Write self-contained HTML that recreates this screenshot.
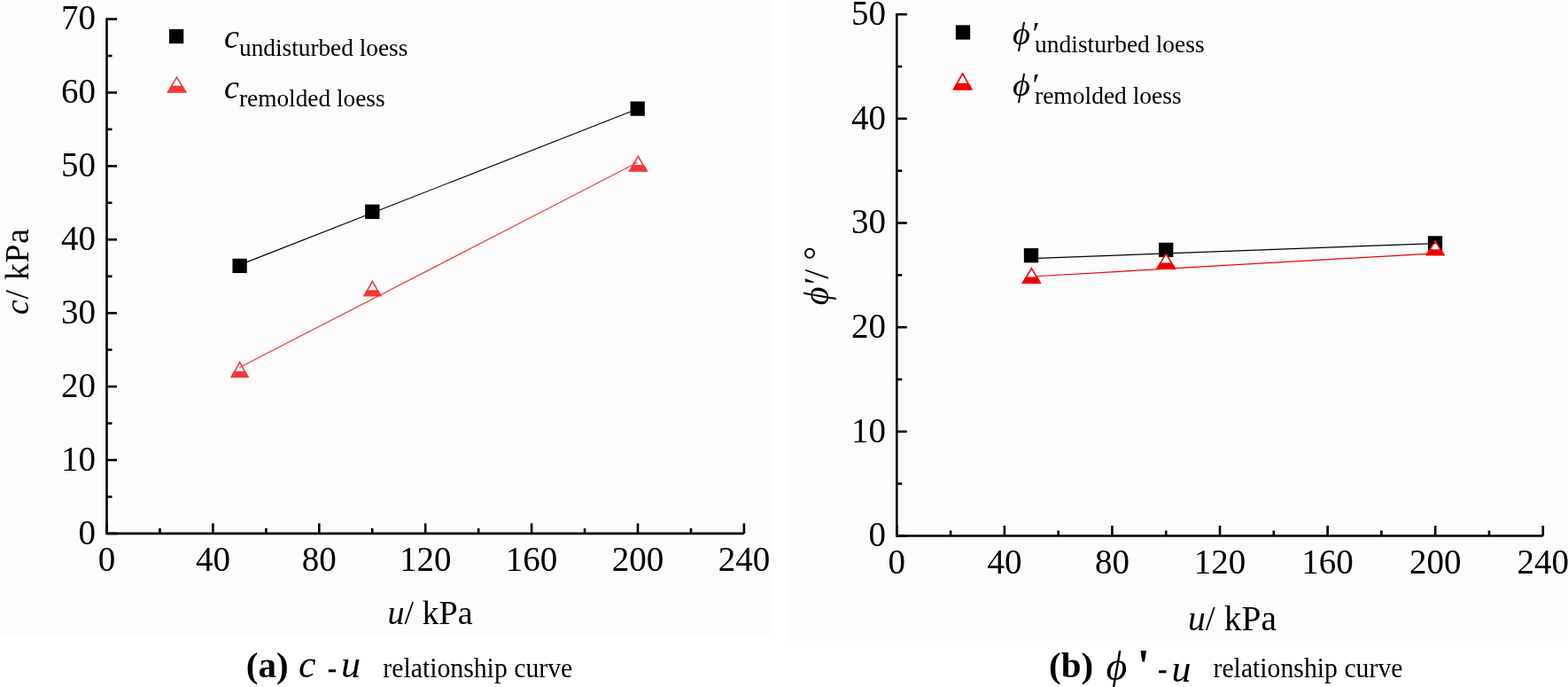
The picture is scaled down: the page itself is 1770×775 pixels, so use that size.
<!DOCTYPE html><html><head><meta charset="utf-8"><title>c-u and phi-u relationship curves</title>
<style>html,body{margin:0;padding:0;background:#fff;}svg{display:block;}text{font-family:'Liberation Serif', 'Times New Roman', serif;fill:#000;}</style></head><body>
<svg width="1770" height="775" viewBox="0 0 1770 775">
<rect x="0" y="0" width="1770" height="775" fill="#fff"/>
<rect x="0" y="0" width="869" height="718" fill="#fcfcfc"/>
<rect x="888" y="0" width="882" height="724" fill="#fcfcfc"/>
<g stroke="#000" stroke-width="2.6" fill="none" stroke-linecap="butt">
<path d="M120.50 20.23 V601.90 H839.90"/>
<path d="M120.50 601.90 h11.5"/>
<path d="M120.50 560.44 h6"/>
<path d="M120.50 518.99 h11.5"/>
<path d="M120.50 477.53 h6"/>
<path d="M120.50 436.08 h11.5"/>
<path d="M120.50 394.62 h6"/>
<path d="M120.50 353.17 h11.5"/>
<path d="M120.50 311.71 h6"/>
<path d="M120.50 270.26 h11.5"/>
<path d="M120.50 228.80 h6"/>
<path d="M120.50 187.35 h11.5"/>
<path d="M120.50 145.89 h6"/>
<path d="M120.50 104.44 h11.5"/>
<path d="M120.50 62.98 h6"/>
<path d="M120.50 21.53 h11.5"/>
<path d="M120.50 601.90 v-11.5"/>
<path d="M180.45 601.90 v-6"/>
<path d="M240.40 601.90 v-11.5"/>
<path d="M300.35 601.90 v-6"/>
<path d="M360.30 601.90 v-11.5"/>
<path d="M420.25 601.90 v-6"/>
<path d="M480.20 601.90 v-11.5"/>
<path d="M540.15 601.90 v-6"/>
<path d="M600.10 601.90 v-11.5"/>
<path d="M660.05 601.90 v-6"/>
<path d="M720.00 601.90 v-11.5"/>
<path d="M779.95 601.90 v-6"/>
<path d="M839.90 601.90 v-11.5"/>
</g>
<text x="108.1" y="613.7" font-size="39" text-anchor="end">0</text>
<text x="108.1" y="530.8" font-size="39" text-anchor="end">10</text>
<text x="108.1" y="447.9" font-size="39" text-anchor="end">20</text>
<text x="108.1" y="365.0" font-size="39" text-anchor="end">30</text>
<text x="108.1" y="282.1" font-size="39" text-anchor="end">40</text>
<text x="108.1" y="199.1" font-size="39" text-anchor="end">50</text>
<text x="108.1" y="116.2" font-size="39" text-anchor="end">60</text>
<text x="108.1" y="33.3" font-size="39" text-anchor="end">70</text>
<text x="120.5" y="643.5" font-size="39" text-anchor="middle">0</text>
<text x="240.4" y="643.5" font-size="39" text-anchor="middle">40</text>
<text x="360.3" y="643.5" font-size="39" text-anchor="middle">80</text>
<text x="480.2" y="643.5" font-size="39" text-anchor="middle">120</text>
<text x="600.1" y="643.5" font-size="39" text-anchor="middle">160</text>
<text x="720.0" y="643.5" font-size="39" text-anchor="middle">200</text>
<text x="839.9" y="643.5" font-size="39" text-anchor="middle">240</text>
<path d="M270.4 298.9 L720 122.7" stroke="#000" stroke-width="1.15" fill="none"/>
<rect x="262.45" y="291.75" width="16.3" height="16.3" fill="#000"/>
<rect x="412.15" y="230.65" width="16.3" height="16.3" fill="#000"/>
<rect x="711.55" y="114.45" width="16.3" height="16.3" fill="#000"/>
<path d="M270.60 408.70 L279.76 425.20 L261.44 425.20 Z" fill="#fff" stroke="#f03838" stroke-width="1.6" stroke-linejoin="miter"/>
<path d="M260.00 426.00 L281.20 426.00 L277.11 418.70 L264.09 418.70 Z" fill="#f03838"/>
<path d="M420.40 317.30 L429.56 333.50 L411.24 333.50 Z" fill="#fff" stroke="#f03838" stroke-width="1.6" stroke-linejoin="miter"/>
<path d="M409.80 334.30 L431.00 334.30 L427.01 327.30 L413.79 327.30 Z" fill="#f03838"/>
<path d="M720.40 176.40 L729.96 192.80 L710.84 192.80 Z" fill="#fff" stroke="#f03838" stroke-width="1.6" stroke-linejoin="miter"/>
<path d="M709.40 193.60 L731.40 193.60 L726.89 185.90 L713.91 185.90 Z" fill="#f03838"/>
<path d="M270.4 414.6 L720 183.1" stroke="#f03838" stroke-width="1.15" fill="none"/>
<rect x="190.95" y="32.85" width="16.3" height="16.3" fill="#000"/>
<path d="M199.60 87.30 L209.41 103.70 L189.79 103.70 Z" fill="#fff" stroke="#f03838" stroke-width="1.6" stroke-linejoin="miter"/>
<path d="M188.35 104.50 L210.85 104.50 L206.24 96.80 L192.96 96.80 Z" fill="#f03838"/>
<text x="253" y="54" font-size="38" font-style="italic">c</text>
<text x="270" y="62.6" font-size="27.3">undisturbed loess</text>
<text x="253" y="111" font-size="38" font-style="italic">c</text>
<text x="270" y="120.1" font-size="27.3">remolded loess</text>
<text x="485.5" y="703.5" font-size="38" text-anchor="middle"><tspan font-style="italic">u</tspan>/ kPa</text>
<text transform="translate(32.3 306.6) rotate(-90)" font-size="37.5" text-anchor="middle" textLength="97" lengthAdjust="spacing"><tspan font-style="italic">c</tspan>/ kPa</text>
<text x="277.8" y="764" font-size="41" font-weight="bold">(a)</text>
<text x="337" y="764" font-size="44" font-style="italic">c</text>
<text x="370" y="763.7" font-size="30" font-weight="bold" stroke="#000" stroke-width="0.6">-</text>
<text x="385" y="764" font-size="44" font-style="italic">u</text>
<text transform="translate(432.3 763.6) scale(0.93 1)" font-size="32">relationship curve</text>
<g stroke="#000" stroke-width="2.6" fill="none" stroke-linecap="butt">
<path d="M1012.30 14.90 V604.50 H1741.78"/>
<path d="M1012.30 604.50 h11.5"/>
<path d="M1012.30 545.67 h6"/>
<path d="M1012.30 486.84 h11.5"/>
<path d="M1012.30 428.01 h6"/>
<path d="M1012.30 369.18 h11.5"/>
<path d="M1012.30 310.35 h6"/>
<path d="M1012.30 251.52 h11.5"/>
<path d="M1012.30 192.69 h6"/>
<path d="M1012.30 133.86 h11.5"/>
<path d="M1012.30 75.03 h6"/>
<path d="M1012.30 16.20 h11.5"/>
<path d="M1012.30 604.50 v-11.5"/>
<path d="M1073.09 604.50 v-6"/>
<path d="M1133.88 604.50 v-11.5"/>
<path d="M1194.67 604.50 v-6"/>
<path d="M1255.46 604.50 v-11.5"/>
<path d="M1316.25 604.50 v-6"/>
<path d="M1377.04 604.50 v-11.5"/>
<path d="M1437.83 604.50 v-6"/>
<path d="M1498.62 604.50 v-11.5"/>
<path d="M1559.41 604.50 v-6"/>
<path d="M1620.20 604.50 v-11.5"/>
<path d="M1680.99 604.50 v-6"/>
<path d="M1741.78 604.50 v-11.5"/>
</g>
<text x="1000.0" y="616.3" font-size="39" text-anchor="end">0</text>
<text x="1000.0" y="498.6" font-size="39" text-anchor="end">10</text>
<text x="1000.0" y="381.0" font-size="39" text-anchor="end">20</text>
<text x="1000.0" y="263.3" font-size="39" text-anchor="end">30</text>
<text x="1000.0" y="145.7" font-size="39" text-anchor="end">40</text>
<text x="1000.0" y="28.0" font-size="39" text-anchor="end">50</text>
<text x="1012.3" y="646.5" font-size="39" text-anchor="middle">0</text>
<text x="1133.9" y="646.5" font-size="39" text-anchor="middle">40</text>
<text x="1255.5" y="646.5" font-size="39" text-anchor="middle">80</text>
<text x="1377.0" y="646.5" font-size="39" text-anchor="middle">120</text>
<text x="1498.6" y="646.5" font-size="39" text-anchor="middle">160</text>
<text x="1620.2" y="646.5" font-size="39" text-anchor="middle">200</text>
<text x="1741.8" y="646.5" font-size="39" text-anchor="middle">240</text>
<rect x="1155.85" y="280.05" width="16.3" height="16.3" fill="#000"/>
<rect x="1308.05" y="273.75" width="16.3" height="16.3" fill="#000"/>
<rect x="1611.85" y="266.25" width="16.3" height="16.3" fill="#000"/>
<path d="M1164.3 312 L1620 285.8" stroke="#f00000" stroke-width="1.2" fill="none"/>
<path d="M1164.40 302.60 L1174.16 319.20 L1154.64 319.20 Z" fill="#fff" stroke="#f00000" stroke-width="1.6" stroke-linejoin="miter"/>
<path d="M1153.20 320.00 L1175.60 320.00 L1171.24 312.60 L1157.56 312.60 Z" fill="#f00000"/>
<path d="M1316.20 286.00 L1326.16 302.90 L1306.24 302.90 Z" fill="#fff" stroke="#f00000" stroke-width="1.6" stroke-linejoin="miter"/>
<path d="M1304.80 303.70 L1327.60 303.70 L1323.29 296.40 L1309.11 296.40 Z" fill="#f00000"/>
<path d="M1620.10 271.70 L1629.71 287.50 L1610.49 287.50 Z" fill="#fff" stroke="#f00000" stroke-width="1.6" stroke-linejoin="miter"/>
<path d="M1609.05 288.30 L1631.15 288.30 L1626.90 281.30 L1613.30 281.30 Z" fill="#f00000"/>
<path d="M1164.3 291.6 L1620.5 274.6" stroke="#000" stroke-width="1.2" fill="none"/>
<rect x="1078.85" y="28.35" width="16.3" height="16.3" fill="#000"/>
<path d="M1086.60 83.00 L1096.51 100.60 L1076.69 100.60 Z" fill="#fff" stroke="#f00000" stroke-width="1.6" stroke-linejoin="miter"/>
<path d="M1075.25 101.40 L1097.95 101.40 L1093.64 93.80 L1079.56 93.80 Z" fill="#f00000"/>
<text transform="translate(1143 50) scale(1.1 1)" font-size="35" font-style="italic">ϕ′</text>
<text x="1168" y="59" font-size="27.5">undisturbed loess</text>
<text transform="translate(1143 107.6) scale(1.1 1)" font-size="35" font-style="italic">ϕ′</text>
<text x="1168" y="117.2" font-size="27.5">remolded loess</text>
<text x="1391" y="710.5" font-size="39.5" text-anchor="middle"><tspan font-style="italic">u</tspan>/ kPa</text>
<text transform="translate(935 311) rotate(-90)" font-size="40" text-anchor="middle"><tspan font-style="italic">ϕ′</tspan>/ °</text>
<text x="1184" y="764" font-size="41" font-weight="bold">(b)</text>
<text x="1248.6" y="766.5" font-size="46" font-style="italic">ϕ</text>
<text x="1283.6" y="768.6" font-size="52" font-weight="bold">'</text>
<text x="1307.3" y="764.5" font-size="30" font-weight="bold" stroke="#000" stroke-width="0.6">-</text>
<text x="1322.5" y="768.5" font-size="44" font-style="italic">u</text>
<text transform="translate(1369.5 764.3) scale(0.93 1)" font-size="32">relationship curve</text>
</svg></body></html>
